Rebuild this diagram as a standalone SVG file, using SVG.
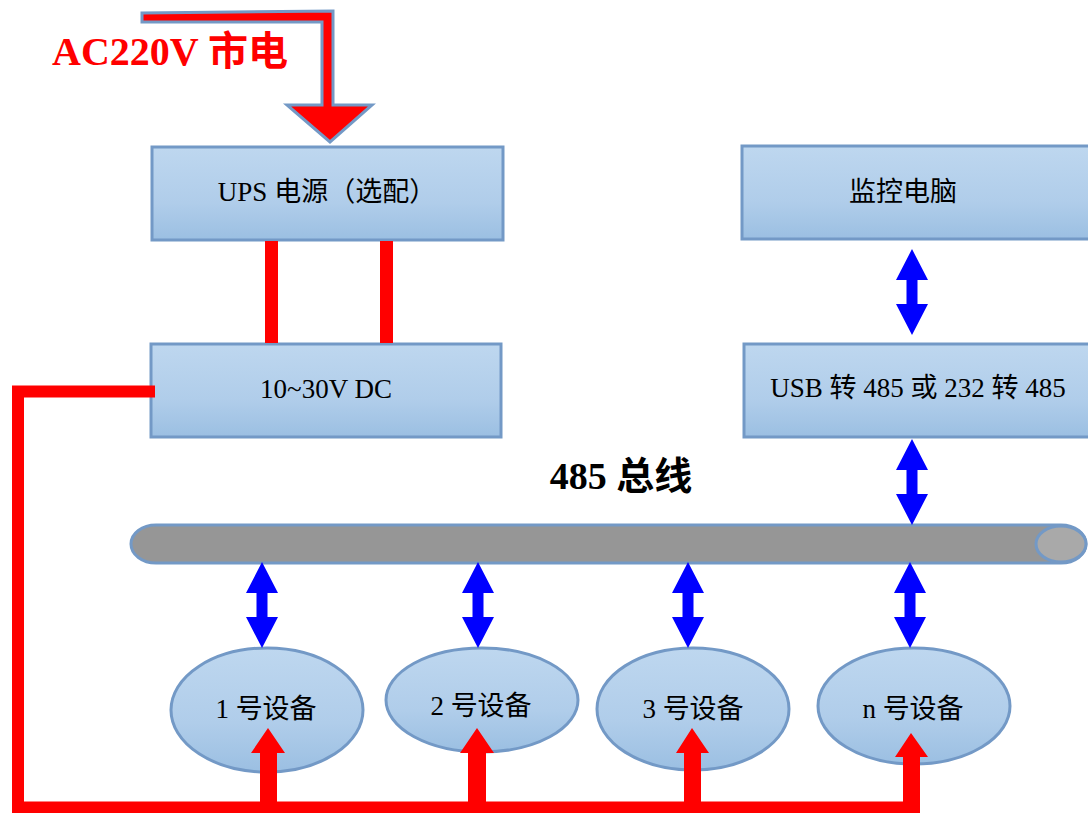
<svg xmlns="http://www.w3.org/2000/svg" width="1088" height="813" viewBox="0 0 1088 813">
<defs>
<linearGradient id="boxg" x1="0" y1="0" x2="0" y2="1">
<stop offset="0" stop-color="#bed7ef"/>
<stop offset="0.6" stop-color="#b0cdea"/>
<stop offset="1" stop-color="#9bbfe2"/>
</linearGradient>
<path id="darr" d="M0,0 L16,31 L5.5,31 L5.5,55 L16,55 L0,86 L-16,55 L-5.5,55 L-5.5,31 L-16,31 Z"/>
</defs>
<style>
.box{fill:url(#boxg);stroke:#7399c6;stroke-width:3}
.t{font-family:"Liberation Serif","Noto Sans CJK SC",serif;font-size:27px;fill:#000;text-anchor:middle}
.darr{fill:#0000ff}
.red{fill:#ff0000}
.wire{fill:none;stroke:#ff0000;stroke-width:12;stroke-linejoin:miter}
</style>

<g id="ac-label">
<text x="52" y="65" style="font-family:'Liberation Serif','Noto Sans CJK SC',serif;font-size:40px;font-weight:bold;fill:#ff0000">AC220V 市电</text>
</g>

<g id="bus-label">
<text x="621" y="489" style="font-family:'Liberation Serif','Noto Sans CJK SC',serif;font-size:38px;font-weight:bold;fill:#000;text-anchor:middle">485 总线</text>
</g>

<g id="ups">
<rect class="box" x="152" y="147" width="351" height="93"/>
<text class="t" x="327" y="201">UPS 电源（选配）</text>
</g>

<g id="dc">
<rect class="box" x="151" y="344" width="350" height="93"/>
<text class="t" x="326" y="398">10~30V DC</text>
</g>

<g id="pc">
<rect class="box" x="742" y="146" width="352" height="93"/>
<text class="t" x="903" y="201">监控电脑</text>
</g>

<g id="usb">
<rect class="box" x="744" y="344" width="350" height="93"/>
<text class="t" x="918" y="397">USB 转 485 或 232 转 485</text>
</g>

<g id="bus">
<path d="M156,525 L1061,525 A25,19 0 0 1 1061,563 L156,563 A25,19 0 0 1 156,525 Z" fill="#969696" stroke="#7399c6" stroke-width="3"/>
<ellipse cx="1061" cy="544" rx="25" ry="18" fill="#a9a9a9" stroke="#7399c6" stroke-width="3"/>
</g>

<g id="dev1">
<ellipse class="box" cx="267" cy="710" rx="96" ry="62"/>
<text class="t" x="266" y="718">1 号设备</text>
</g>
<g id="dev2">
<ellipse class="box" cx="482" cy="700" rx="96" ry="52"/>
<text class="t" x="481" y="715">2 号设备</text>
</g>
<g id="dev3">
<ellipse class="box" cx="693" cy="709" rx="96" ry="61"/>
<text class="t" x="693" y="718">3 号设备</text>
</g>
<g id="devn">
<ellipse class="box" cx="914" cy="706" rx="96" ry="58"/>
<text class="t" x="913" y="718">n 号设备</text>
</g>

<g id="connectors">
<polygon points="142,13 333,11 333,105 372,105 330,142 287,105 322,105 322,22 142,22" fill="#ff0000" stroke="#7399c6" stroke-width="3" stroke-linejoin="miter"/>
<rect class="red" x="265" y="241" width="13" height="102"/>
<rect class="red" x="380" y="241" width="13" height="102"/>
<polyline class="wire" points="155,391.5 18,391.5 18,807.5 920,807.5"/>
<polygon class="red" points="268,728 285,753 277,753 277,807 260,807 260,753 251,753"/>
<polygon class="red" points="477,728 494,753 486,753 486,807 468,807 468,753 460,753"/>
<polygon class="red" points="692,728 709,753 701,753 701,807 684,807 684,753 676,753"/>
<polygon class="red" points="911,733 928,757 920,757 920,813 903,813 903,757 895,757"/>
<use href="#darr" class="darr" x="262" y="562"/>
<use href="#darr" class="darr" x="478" y="562"/>
<use href="#darr" class="darr" x="688" y="562"/>
<use href="#darr" class="darr" x="910" y="562"/>
<use href="#darr" class="darr" x="912" y="249"/>
<use href="#darr" class="darr" x="912" y="439"/>
</g>
</svg>
